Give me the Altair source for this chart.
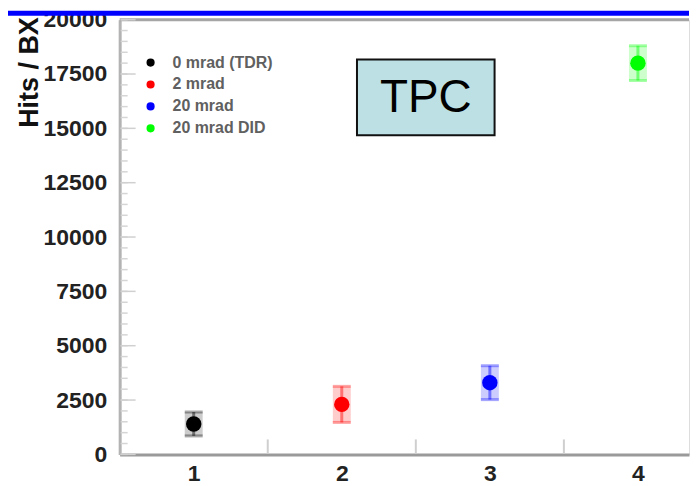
import altair as alt
import pandas as pd

# ---- data ----
runs = [1, 2, 3, 4]
series = ["0 mrad (TDR)", "2 mrad", "20 mrad", "20 mrad DID"]
hits = [1400, 2300, 3300, 18000]
errs = [550, 830, 780, 800]
colors = ["#000000", "#ff0000", "#0000ff", "#00ff00"]

y_major = [0, 2500, 5000, 7500, 10000, 12500, 15000, 17500, 20000]
y_minor = [v for v in range(0, 20001, 500)]
x_labels = [1, 2, 3, 4]
x_ticks = [1.5, 2.5, 3.5]

W, H = 571, 436
XDOM = [0.5, 4.345]
YDOM = [0, 20000]
FONT = "Liberation Sans"

df = pd.DataFrame({"run": runs, "series": series, "hits": hits, "err": errs})
df["lo"] = df["hits"] - df["err"]
df["hi"] = df["hits"] + df["err"]

xs = alt.Scale(domain=XDOM, nice=False, zero=False, padding=0)
ys = alt.Scale(domain=YDOM, nice=False, padding=0)
cs = alt.Scale(domain=series, range=colors)

legend = alt.Legend(orient="none", legendX=23, legendY=35, title=None,
                    padding=0, symbolSize=45, symbolType="circle", symbolOpacity=1,
                    labelFont=FONT, labelFontSize=16,
                    labelFontWeight="bold", labelColor="#606060",
                    rowPadding=6, labelOffset=14)
col = alt.Color("series:N", scale=cs, sort=series, legend=legend)

one = pd.DataFrame({"k": [0]})

xaxis = alt.Axis(values=x_labels, format="d", tickSize=0, grid=False, labelFont=FONT,
                 labelFontSize=23, labelFontWeight="bold", labelColor="#222",
                 labelPadding=8, domainColor="#9a9a9a", domainWidth=3, title=None,
                 labelFlush=False)
yaxis = alt.Axis(values=y_major, format="d", tickSize=0, grid=False, labelFont=FONT,
                 labelFontSize=23, labelFontWeight="bold", labelColor="#222",
                 labelPadding=13, domainColor="#b3b3b3", domainWidth=3,
                 title="Hits / BX", titleFont=FONT, titleFontSize=27,
                 titleFontWeight="bold", titleColor="#111", titleAngle=270,
                 titleAlign="right", titleBaseline="middle", titleX=-90, titleY=-3,
                 labelFlush=False)

blue_bar = alt.Chart(one).mark_rect(color="#0000ff").encode(
    x=alt.value(-112), x2=alt.value(W), y=alt.value(-9), y2=alt.value(-4))

top_frame = alt.Chart(one).mark_rule(color="#a5a5a5", strokeWidth=3).encode(
    x=alt.value(0), x2=alt.value(W), y=alt.value(0))

ymaj = alt.Chart(pd.DataFrame({"v": y_major})).mark_rule(color="#d0d0d0", strokeWidth=1.5).encode(
    y=alt.Y("v:Q", scale=ys, axis=yaxis), x=alt.value(1), x2=alt.value(16))
ymin = alt.Chart(pd.DataFrame({"v": y_minor})).mark_rule(color="#d5d5d5", strokeWidth=1.5).encode(
    y=alt.Y("v:Q", scale=ys), x=alt.value(1), x2=alt.value(8))
xt = alt.Chart(pd.DataFrame({"v": x_ticks})).mark_rule(color="#cfcfcf", strokeWidth=2).encode(
    x=alt.X("v:Q", scale=xs, axis=xaxis), y=alt.value(H - 1), y2=alt.value(H - 15))

base = alt.Chart(df)
err_box = base.mark_bar(width=18, opacity=0.2).encode(
    x=alt.X("run:Q", scale=xs), y=alt.Y("lo:Q", scale=ys), y2="hi:Q", color=col)
err_line = base.mark_rule(strokeWidth=3, opacity=0.45).encode(
    x=alt.X("run:Q", scale=xs), y=alt.Y("lo:Q", scale=ys), y2="hi:Q", color=col)
cap_lo = base.mark_tick(orient="horizontal", thickness=3, size=18, opacity=0.35).encode(
    x=alt.X("run:Q", scale=xs), y=alt.Y("lo:Q", scale=ys), color=col)
cap_hi = base.mark_tick(orient="horizontal", thickness=3, size=18, opacity=0.35).encode(
    x=alt.X("run:Q", scale=xs), y=alt.Y("hi:Q", scale=ys), color=col)
pts = base.mark_circle(size=240, opacity=1).encode(
    x=alt.X("run:Q", scale=xs), y=alt.Y("hits:Q", scale=ys), color=col)

box = alt.Chart(one).mark_rect(fill="#bce0e4", stroke="#111", strokeWidth=2).encode(
    x=alt.value(238), x2=alt.value(376), y=alt.value(40), y2=alt.value(116))
box_text = alt.Chart(one).mark_text(text="TPC", font=FONT, fontSize=46,
                                    color="#000", align="center", baseline="middle").encode(
    x=alt.value(307), y=alt.value(79))

chart = alt.layer(blue_bar, top_frame, ymin, ymaj, xt, err_box, err_line, cap_lo, cap_hi, pts,
                  box, box_text).properties(
    width=W, height=H, padding=0
).configure_view(stroke=None).configure(background="white")

chart.save("out.html", embed_options={"renderer": "svg", "actions": False})
